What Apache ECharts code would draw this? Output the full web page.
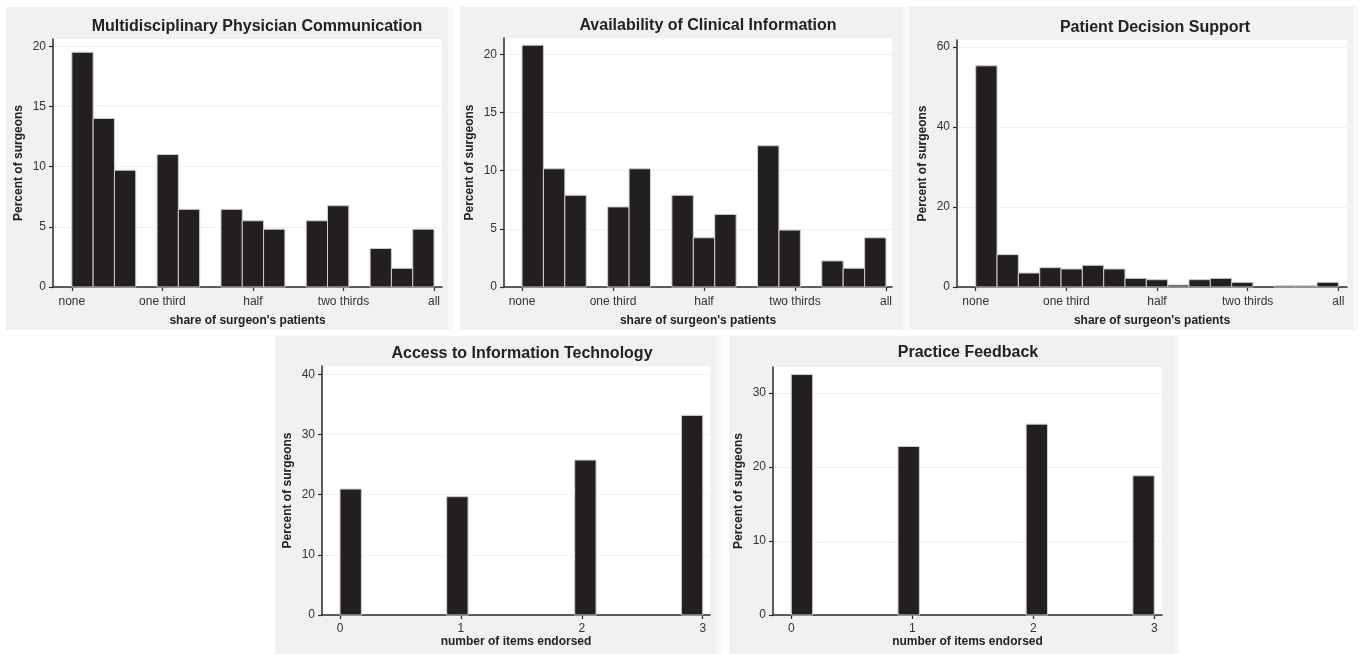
<!DOCTYPE html>
<html>
<head>
<meta charset="utf-8">
<script src="https://cdn.jsdelivr.net/npm/echarts@6/dist/echarts.min.js"></script>
<style>
html,body{margin:0;padding:0;background:#fff;}
#chart{width:1363px;height:654px;}
</style>
</head>
<body>
<div id="chart"></div>
<script>
// ---- data (percent of surgeons per histogram bin, 17 bins each) ----
const shareTickValues = [0, 0.25, 0.5, 0.75, 1];
const shareTickLabels = ['none', 'one third', 'half', 'two thirds', 'all'];
const itemTickValues = [0, 1, 2, 3];
const itemTickLabels = ['0', '1', '2', '3'];

const multidisciplinary = [19.5, 14.0, 9.7, 0, 11.0, 6.45, 0, 6.45, 5.5, 4.8, 0, 5.5, 6.75, 0, 3.2, 1.55, 4.8];
const availability = [20.78, 10.16, 7.88, 0, 6.88, 10.16, 0, 7.88, 4.23, 6.24, 0, 12.14, 4.89, 0, 2.24, 1.61, 4.23];
const decisionSupport = [55.25, 8.08, 3.5, 4.83, 4.5, 5.42, 4.5, 2.17, 1.83, 0.5, 1.83, 2.17, 1.17, 0, 0.3, 0.3, 1.17];
const accessIT = [20.94, 0, 0, 0, 0, 19.67, 0, 0, 0, 0, 0, 25.76, 0, 0, 0, 0, 33.19];
const practiceFeedback = [32.48, 0, 0, 0, 0, 22.76, 0, 0, 0, 0, 0, 25.78, 0, 0, 0, 0, 18.8];

const yTicks1 = [0, 5, 10, 15, 20];
const yTicks2 = [0, 5, 10, 15, 20];
const yTicks3 = [0, 20, 40, 60];
const yTicks4 = [0, 10, 20, 30, 40];
const yTicks5 = [0, 10, 20, 30];

// ---- layout ----
const FONT = '"Liberation Sans", Arial, Helvetica, sans-serif';
const panels = [
  {title: 'Multidisciplinary Physician Communication', data: multidisciplinary, range: 1, xt: shareTickValues, xl: shareTickLabels, yt: yTicks1, ymax: 20.6,
   xName: "share of surgeon's patients", box: [6, 7, 442, 323], grid: [53, 39, 442, 287], xmin: -0.052, xmax: 1.022, titleX: 257, titleY: 19, nameGap: 28, lm: 9},
  {title: 'Availability of Clinical Information', data: availability, range: 1, xt: shareTickValues, xl: shareTickLabels, yt: yTicks2, ymax: 21.4,
   xName: "share of surgeon's patients", box: [460, 7, 443, 323], grid: [504, 38, 892, 287], xmin: -0.0495, xmax: 1.0165, titleX: 708, titleY: 18, nameGap: 28, lm: 9},
  {title: 'Patient Decision Support', data: decisionSupport, range: 1, xt: shareTickValues, xl: shareTickLabels, yt: yTicks3, ymax: 61.7,
   xName: "share of surgeon's patients", box: [909, 6, 444, 324], grid: [957, 40, 1347, 287], xmin: -0.0516, xmax: 1.024, titleX: 1155, titleY: 20, nameGap: 28, lm: 9},
  {title: 'Access to Information Technology', data: accessIT, range: 3, xt: itemTickValues, xl: itemTickLabels, yt: yTicks4, ymax: 41.4,
   xName: 'number of items endorsed', box: [275, 336, 441, 318], grid: [322, 366, 710, 615], xmin: -0.149, xmax: 3.06, titleX: 522, titleY: 346, nameGap: 19, lm: 8},
  {title: 'Practice Feedback', data: practiceFeedback, range: 3, xt: itemTickValues, xl: itemTickLabels, yt: yTicks5, ymax: 33.5,
   xName: 'number of items endorsed', box: [729, 336, 445, 318], grid: [773, 367, 1162, 615], xmin: -0.151, xmax: 3.064, titleX: 968, titleY: 345, nameGap: 19, lm: 8}
];

const W = 1363, H = 654;
const grids = [], xAxes = [], yAxes = [], series = [], graphics = [];
const axisColor = '#2a2a2a';
const labelColor = '#333333';

panels.forEach((p, i) => {
  const [bx, by, bw, bh] = p.box;
  graphics.push({type: 'rect', z: -100, shape: {x: bx, y: by, width: bw, height: bh}, style: {fill: '#eff1f3'}});
  graphics.push({type: 'rect', z: -100, shape: {x: bx + bw, y: by, width: 5, height: bh}, style: {fill: '#f7f8f9'}});
  graphics.push({type: 'text', z: 10, x: p.titleX, y: p.titleY,
    style: {text: p.title, fill: '#222', font: 'bold 16px ' + FONT, textAlign: 'center', textVerticalAlign: 'top'}});

  const [gl, gt, gr, gb] = p.grid;
  grids.push({left: gl, top: gt, width: gr - gl, height: gb - gt, show: true, backgroundColor: '#ffffff', borderWidth: 0});
  xAxes.push({
    type: 'value', gridIndex: i, min: p.xmin, max: p.xmax,
    name: p.xName, nameLocation: 'middle', nameGap: p.nameGap,
    nameTextStyle: {fontFamily: FONT, fontWeight: 'bold', fontSize: 12, color: '#222'},
    axisLine: {show: true, onZero: false, lineStyle: {color: axisColor, width: 1.5}},
    axisTick: {show: true, length: 4, customValues: p.xt, lineStyle: {color: axisColor, width: 1.2}},
    axisLabel: {customValues: p.xt, formatter: (v) => p.xl[p.xt.indexOf(v)] ?? '', fontFamily: FONT, fontSize: 12, color: labelColor, margin: p.lm},
    splitLine: {show: false}
  });
  yAxes.push({
    type: 'value', gridIndex: i, min: 0, max: p.ymax,
    name: 'Percent of surgeons', nameLocation: 'middle', nameGap: 28, nameRotate: 90,
    nameTextStyle: {fontFamily: FONT, fontWeight: 'bold', fontSize: 12, color: '#222'},
    axisLine: {show: true, onZero: false, lineStyle: {color: axisColor, width: 1.5}},
    axisTick: {show: true, length: 4, customValues: p.yt, lineStyle: {color: axisColor, width: 1.2}},
    axisLabel: {customValues: p.yt, fontFamily: FONT, fontSize: 12, color: labelColor, margin: 7},
    splitLine: {show: true, lineStyle: {color: '#f1f2f4', width: 1}}
  });
  const n = p.data.length;
  series.push({
    type: 'custom', xAxisIndex: i, yAxisIndex: i,
    data: p.data.map((v, k) => [k * p.range / n, (k + 1) * p.range / n, v]),
    encode: {x: [0, 1], y: 2},
    renderItem: (params, api) => {
      const x0 = api.value(0), x1 = api.value(1), y = api.value(2);
      if (!(y > 0)) return null;
      const a = api.coord([x0, y]);
      const b = api.coord([x1, 0]);
      return {type: 'rect', shape: {x: a[0], y: a[1], width: b[0] - a[0], height: b[1] - a[1]},
        style: {fill: '#231f20', stroke: '#cdcdcd', lineWidth: 1}};
    },
    silent: true
  });
});

const chart = echarts.init(document.getElementById('chart'), null, {renderer: 'canvas', width: W, height: H});
chart.setOption({
  animation: false,
  backgroundColor: '#ffffff',
  grid: grids, xAxis: xAxes, yAxis: yAxes, series: series,
  graphic: {elements: graphics}
});
</script>
</body>
</html>
